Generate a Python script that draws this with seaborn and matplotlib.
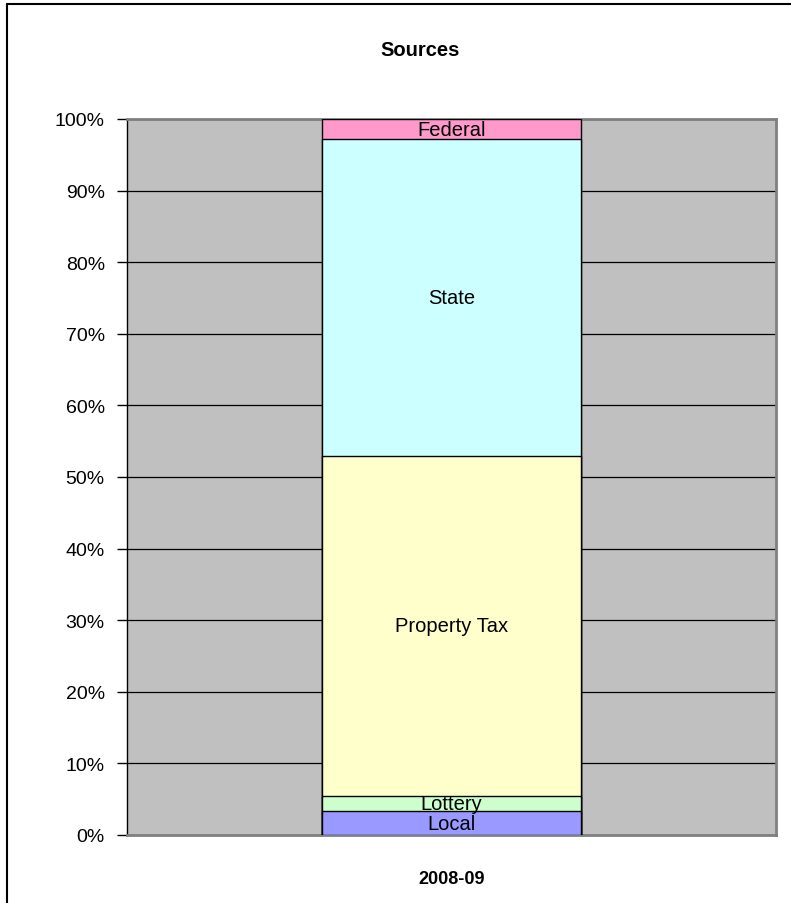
"""
Sources of revenue, 2008-09, 100% stacked column
"""

import pandas as pd
import matplotlib.pyplot as plt
import seaborn as sns
from matplotlib.lines import Line2D
from matplotlib.ticker import PercentFormatter

sns.set_theme(style="white")
plt.rcParams["font.family"] = ["Liberation Sans", "DejaVu Sans"]
plt.rcParams["text.color"] = "black"
plt.rcParams["xtick.color"] = "black"
plt.rcParams["ytick.color"] = "black"

# data (share of total, %)
years = ["2008-09"]
sources = ["Local", "Lottery", "Property Tax", "State", "Federal"]
shares = [3.3, 2.2, 47.5, 44.2, 2.8]
colors = ["#9999FF", "#CCFFCC", "#FFFFCC", "#CCFFFF", "#FF99CC"]

df = pd.DataFrame({"Year": years * len(sources), "Source": sources, "Share": shares})
df["Top"] = df["Share"].cumsum()
df["Mid"] = df["Top"] - df["Share"] / 2

fig = plt.figure(figsize=(7.91, 9.04), dpi=100)
ax = fig.add_axes([127 / 791, 68 / 904, 649 / 791, 716 / 904])
ax.set_facecolor("#C0C0C0")

# stacked bars: draw cumulative totals from the top down
for i in reversed(range(len(sources))):
    sns.barplot(
        data=df.iloc[[i]],
        x="Year",
        y="Top",
        color=colors[i],
        width=0.4,
        edgecolor="black",
        linewidth=1,
        saturation=1,
        ax=ax,
        zorder=3,
    )

for _, row in df.iterrows():
    ax.text(0, row["Mid"], row["Source"], ha="center", va="center",
            fontsize=14.5, color="black", zorder=4)

ax.set_ylim(0, 100)
ax.set_xlim(-0.5, 0.5)
ax.set_yticks(range(0, 101, 10))
ax.yaxis.set_major_formatter(PercentFormatter(decimals=0))
ax.yaxis.grid(True, color="black", linewidth=0.9, zorder=1)
ax.set_axisbelow(True)
ax.tick_params(axis="y", length=7, width=1, color="black", labelsize=14,
               labelcolor="black", left=True, pad=9)
ax.tick_params(axis="x", length=0, labelsize=13, labelcolor="black", pad=25)
for lab in ax.get_xticklabels():
    lab.set_fontweight("bold")
ax.set_xlabel("")
ax.set_ylabel("")

ax.spines["left"].set_color("black")
for s in ["top", "right", "bottom"]:
    ax.spines[s].set_color("#808080")
    ax.spines[s].set_linewidth(2)
ax.spines["left"].set_linewidth(1)

fig.text(420 / 791, 1 - 51 / 904, "Sources", ha="center", va="center",
         fontsize=14.5, fontweight="bold", color="black")

# chart area border (left and top edges visible)
fig.add_artist(Line2D([7 / 791, 7 / 791], [0, 1 - 5 / 904], color="black", linewidth=1.5,
                      transform=fig.transFigure))
fig.add_artist(Line2D([7 / 791, 1], [1 - 5 / 904, 1 - 5 / 904], color="black", linewidth=1.5,
                      transform=fig.transFigure))

fig.savefig("out.png", dpi=100)
